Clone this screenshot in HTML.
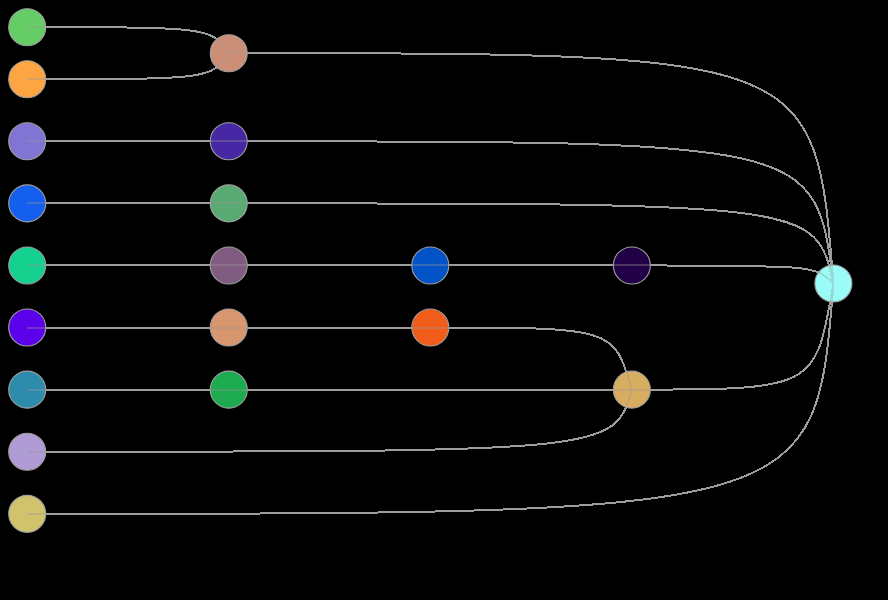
<!DOCTYPE html>
<html><head><meta charset="utf-8"><style>
html,body{margin:0;padding:0;background:#000;width:888px;height:600px;overflow:hidden}
svg{display:block}
</style></head><body>
<svg width="888" height="600" viewBox="0 0 888 600">
<rect width="888" height="600" fill="#000"/>
<path d="M27.20,27.20C210.75,27.20 210.75,27.20 228.75,53.20M27.20,79.20C210.75,79.20 210.75,79.20 228.75,53.20M228.75,53.20C815.40,53.20 815.40,53.20 833.40,283.52M27.20,141.29C210.75,141.29 210.75,141.29 228.75,141.29M228.75,141.29C815.40,141.29 815.40,141.29 833.40,283.52M27.20,203.38C210.75,203.38 210.75,203.38 228.75,203.38M228.75,203.38C815.40,203.38 815.40,203.38 833.40,283.52M27.20,265.47C210.75,265.47 210.75,265.47 228.75,265.47M228.75,265.47C412.30,265.47 412.30,265.47 430.30,265.47M430.30,265.47C613.85,265.47 613.85,265.47 631.85,265.47M631.85,265.47C815.40,265.47 815.40,265.47 833.40,283.52M27.20,327.56C210.75,327.56 210.75,327.56 228.75,327.56M228.75,327.56C412.30,327.56 412.30,327.56 430.30,327.56M430.30,327.56C613.85,327.56 613.85,327.56 631.85,389.65M27.20,389.65C210.75,389.65 210.75,389.65 228.75,389.65M228.75,389.65C613.85,389.65 613.85,389.65 631.85,389.65M27.20,451.74C613.85,451.74 613.85,451.74 631.85,389.65M27.20,513.83C815.40,513.83 815.40,513.83 833.40,283.52M631.85,389.65C815.40,389.65 815.40,389.65 833.40,283.52" fill="none" stroke="#a0a0a0" stroke-width="2" shape-rendering="crispEdges"/>
<g stroke="#a0a0a0" stroke-width="1.1">
<circle cx="27.20" cy="27.20" r="18.5" fill="#66cc66"/>
<circle cx="27.20" cy="79.20" r="18.5" fill="#fca542"/>
<circle cx="27.20" cy="141.29" r="18.5" fill="#8075d4"/>
<circle cx="27.20" cy="203.38" r="18.5" fill="#145fee"/>
<circle cx="27.20" cy="265.47" r="18.5" fill="#15d18f"/>
<circle cx="27.20" cy="327.56" r="18.5" fill="#5a00eb"/>
<circle cx="27.20" cy="389.65" r="18.5" fill="#2d8cab"/>
<circle cx="27.20" cy="451.74" r="18.5" fill="#b09cd4"/>
<circle cx="27.20" cy="513.83" r="18.5" fill="#d1c36c"/>
<circle cx="228.75" cy="53.20" r="18.5" fill="#cd8e78"/>
<circle cx="228.75" cy="141.29" r="18.5" fill="#4628a5"/>
<circle cx="228.75" cy="203.38" r="18.5" fill="#5aaa73"/>
<circle cx="228.75" cy="265.47" r="18.5" fill="#805d80"/>
<circle cx="228.75" cy="327.56" r="18.5" fill="#d8966f"/>
<circle cx="228.75" cy="389.65" r="18.5" fill="#1eaa50"/>
<circle cx="430.30" cy="265.47" r="18.5" fill="#0252c8"/>
<circle cx="430.30" cy="327.56" r="18.5" fill="#f25c1a"/>
<circle cx="631.85" cy="265.47" r="18.5" fill="#210048"/>
<circle cx="631.85" cy="389.65" r="18.5" fill="#d9ad60"/>
<circle cx="833.40" cy="283.52" r="18.5" fill="#9afcf6"/>
</g>
<path d="M27.20,27.20C210.75,27.20 210.75,27.20 228.75,53.20M27.20,79.20C210.75,79.20 210.75,79.20 228.75,53.20M228.75,53.20C815.40,53.20 815.40,53.20 833.40,283.52M27.20,141.29C210.75,141.29 210.75,141.29 228.75,141.29M228.75,141.29C815.40,141.29 815.40,141.29 833.40,283.52M27.20,203.38C210.75,203.38 210.75,203.38 228.75,203.38M228.75,203.38C815.40,203.38 815.40,203.38 833.40,283.52M27.20,265.47C210.75,265.47 210.75,265.47 228.75,265.47M228.75,265.47C412.30,265.47 412.30,265.47 430.30,265.47M430.30,265.47C613.85,265.47 613.85,265.47 631.85,265.47M631.85,265.47C815.40,265.47 815.40,265.47 833.40,283.52M27.20,327.56C210.75,327.56 210.75,327.56 228.75,327.56M228.75,327.56C412.30,327.56 412.30,327.56 430.30,327.56M430.30,327.56C613.85,327.56 613.85,327.56 631.85,389.65M27.20,389.65C210.75,389.65 210.75,389.65 228.75,389.65M228.75,389.65C613.85,389.65 613.85,389.65 631.85,389.65M27.20,451.74C613.85,451.74 613.85,451.74 631.85,389.65M27.20,513.83C815.40,513.83 815.40,513.83 833.40,283.52M631.85,389.65C815.40,389.65 815.40,389.65 833.40,283.52" fill="none" stroke="#999" stroke-width="2" stroke-opacity="0.35" shape-rendering="crispEdges"/>
</svg>
</body></html>
